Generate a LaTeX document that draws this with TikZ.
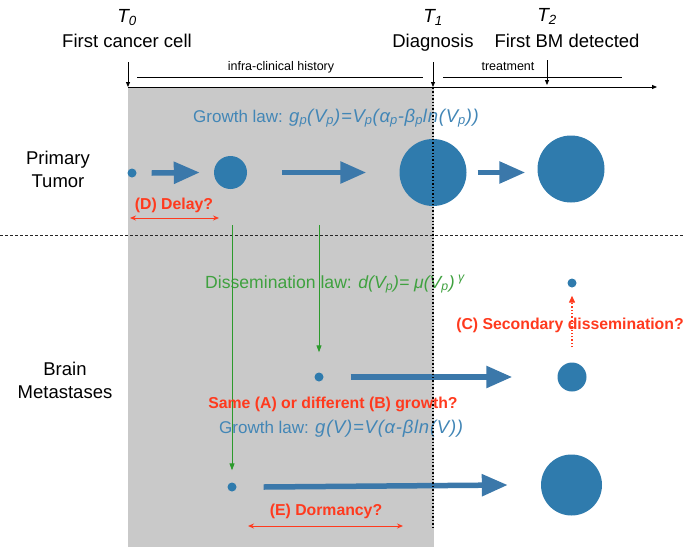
\documentclass[tikz,border=0pt]{standalone}
\usepackage{fontspec}
\setmainfont{Liberation Sans}
\usetikzlibrary{arrows.meta,calc}
\definecolor{tblue}{HTML}{2F7BAD}
\definecolor{ablue}{HTML}{3B78AA}
\definecolor{lblue}{HTML}{4286B6}
\definecolor{qred}{HTML}{FF3A1E}
\definecolor{lgreen}{HTML}{3FA13F}
\definecolor{dgreen}{HTML}{2C9A2C}
\definecolor{bggray}{HTML}{C9C9C9}
\newcommand\widelaw[1]{{\fontsize{18.5}{20}\selectfont\itshape\addfontfeatures{LetterSpace=4}#1}}
\begin{document}
\begin{tikzpicture}[x=1pt,y=-1pt,
  tumor/.style={circle,fill=tblue,inner sep=0pt,minimum size=#1},
  bigarrow/.style={draw=ablue,line width=5.5pt,-{Triangle[length=26pt,width=21pt]}},
  timearrow/.style={draw=black,line width=0.8pt,-{Triangle[length=5pt,width=4pt]}},
  period/.style={draw=black,line width=0.8pt},
  greenarrow/.style={draw=dgreen,line width=0.9pt,-{Triangle[length=7pt,width=5pt]}},
  redboth/.style={draw=qred,line width=1pt,{Stealth[length=6pt,width=5pt]}-{Stealth[length=6pt,width=5pt]}},
  bigtext/.style={inner sep=0pt,anchor=base,font=\fontsize{18.5}{22}\selectfont},
  tlabel/.style={inner sep=0pt,anchor=base,font=\fontsize{19}{22}\selectfont\itshape},
  smalltext/.style={inner sep=0pt,anchor=base,font=\fontsize{12.5}{15}\selectfont},
  lawtext/.style={inner sep=0pt,anchor=base west,font=\fontsize{17}{20}\selectfont},
  redtext/.style={inner sep=0pt,anchor=base,text=qred,font=\fontsize{15.8}{19}\selectfont\bfseries},
]
\useasboundingbox (0,0) rectangle (685,549);
% background
\fill[bggray] (128,87) rectangle (434,547);
% timeline
\coordinate (ax0) at (128,87);
\coordinate (axend) at (657,87);
\coordinate (ax1) at (433,87);
\coordinate (ax2) at (547,85);
\coordinate (a0top) at (128,62);
\coordinate (a1top) at (433,62);
\coordinate (a2top) at (547,60);
\draw[timearrow] (ax0) -- (axend);
\draw[timearrow] (a0top) -- (ax0);
\draw[timearrow] (a1top) -- (ax1);
\draw[timearrow] (a2top) -- (ax2);
\coordinate (ic0) at (137,77);
\coordinate (ic1) at (423,77);
\coordinate (tr0) at (443,77);
\coordinate (tr1) at (622,77);
\draw[period] (ic0) -- (ic1);
\draw[period] (tr0) -- (tr1);
\node[smalltext] (ich) at (281,70) {infra-clinical history};
\node[smalltext] (trt) at (508,70) {treatment};
\node[tlabel] (t0) at (127,22) {T\textsubscript{0}};
\node[tlabel] (t1) at (433,22) {T\textsubscript{1}};
\node[tlabel] (t2) at (547,21) {T\textsubscript{2}};
\node[bigtext] (fcc) at (127,47) {First cancer cell};
\node[bigtext] (diag) at (433,47) {Diagnosis};
\node[bigtext] (fbm) at (567,47) {First BM detected};
% row labels
\node[bigtext] (pr1) at (58,164) {Primary};
\node[bigtext] (pr2) at (58,187) {Tumor};
\node[bigtext] (bm1) at (65,375) {Brain};
\node[bigtext] (bm2) at (65,398) {Metastases};
% separator
\coordinate (sep0) at (0,235);
\coordinate (sep1) at (685,235);
\draw[black!85,line width=0.9pt,dash pattern=on 3pt off 2pt] (sep0) -- (sep1);
% laws
\node[lawtext,text=lblue] (gpl) at (193,122) {Growth law: \widelaw{g\textsubscript{p}(V\textsubscript{p})=V\textsubscript{p}(α\textsubscript{p}-β\textsubscript{p}ln(V\textsubscript{p}))}};
\node[lawtext,text=lgreen,font=\fontsize{17.6}{20}\selectfont] (dl) at (205,288) {Dissemination law: \textit{d(V\textsubscript{p})= μ(V\textsubscript{p})\textsuperscript{ γ}}};
\node[lawtext,text=lblue] (gl) at (219,433) {Growth law: \widelaw{g(V)=V(α-βln(V))}};
% primary tumours
\node[tumor=9pt] (p0) at (132,173) {};
\node[tumor=33pt] (p1) at (230.5,172.5) {};
\node[tumor=67pt] (p2) at (433,172.5) {};
\node[tumor=67pt] (p3) at (571,169) {};
\draw[bigarrow] ([xshift=15pt]p0.east) -- ([xshift=-14pt]p1.west);
\draw[bigarrow] ([xshift=35pt]p1.east) -- ([xshift=-33pt]p2.west);
\draw[bigarrow] ($(p2.east)+(11,0)$) -- ($(p2.east -| p3.west)+(-12,0)$);
% metastases
\node[tumor=9pt] (m1) at (319,377) {};
\node[tumor=29pt] (m1b) at (572,377) {};
\node[tumor=9pt] (m2) at (232,487) {};
\node[tumor=61pt] (m2b) at (571.5,485) {};
\node[tumor=9pt] (m3) at (572,283) {};
\draw[bigarrow] ([xshift=27pt]m1.east) -- ([xshift=-45pt]m1b.west);
\draw[bigarrow] ([xshift=27pt]m2.east) -- ([xshift=-33pt]m2b.west);
% dissemination arrows
\coordinate (g1) at (232,225);
\coordinate (g2) at (319,225);
\draw[greenarrow,shorten >=12pt] (g1) -- (m2.north);
\draw[greenarrow,shorten >=20pt] (g2) -- (m1.north);
\draw[qred,line width=1.3pt,dotted,shorten <=15pt,shorten >=8pt,-{Triangle[length=7pt,width=6pt]}] (m1b.north) -- (m3.south);
% diagnosis line
\coordinate (d0) at (433,88);
\coordinate (d1) at (433,529);
\draw[black,line width=1.4pt,dotted] (d0) -- (d1);
% questions
\node[redtext] (qd) at (174,209) {(D) Delay?};
\coordinate (dl0) at (130,218);
\coordinate (dl1) at (219,218);
\draw[redboth] (dl0) -- (dl1);
\node[redtext] (qc) at (570,329) {(C) Secondary dissemination?};
\node[redtext] (qab) at (333,408) {Same (A) or different (B) growth?};
\node[redtext] (qe) at (326,515) {(E) Dormancy?};
\coordinate (e0) at (248,526);
\coordinate (e1) at (403,526);
\draw[redboth] (e0) -- (e1);
\end{tikzpicture}
\end{document}
